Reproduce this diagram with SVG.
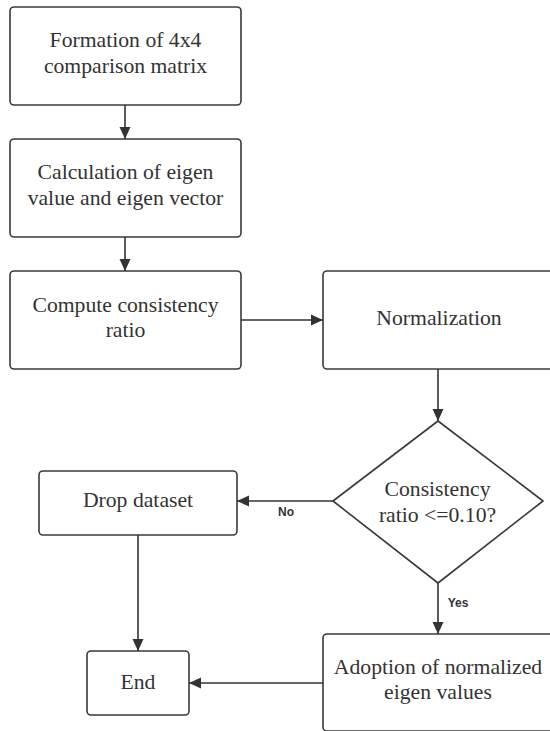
<svg xmlns="http://www.w3.org/2000/svg" width="550" height="731" viewBox="0 0 550 731">
<style>
.box{fill:#ffffff;stroke:#3a3a3a;stroke-width:1.6}
.t{font-family:"Liberation Serif","Times New Roman",serif;font-size:21.7px;fill:#333333;text-anchor:middle}
.lbl{font-family:"Liberation Sans",Arial,sans-serif;font-size:12px;font-weight:bold;fill:#333333;text-anchor:middle}
.c{fill:none;stroke:#333333;stroke-width:1.6;marker-end:url(#ah)}
</style>
<defs>
<marker id="ah" markerUnits="userSpaceOnUse" markerWidth="12" markerHeight="12" viewBox="0 0 12 12" refX="12" refY="6" orient="auto">
<path d="M0,0.5 L12,6 L0,11.5 z" fill="#333333"/>
</marker>
</defs>
<rect width="550" height="731" fill="#ffffff"/>
<g id="connectors">
<path class="c" d="M125,105 L125,139"/>
<path class="c" d="M125,237 L125,271"/>
<path class="c" d="M241,320 L323,320"/>
<path class="c" d="M438,369 L438,421"/>
<path class="c" d="M333,501 L237,501"/>
<path class="c" d="M438,583 L438,634"/>
<path class="c" d="M138,535 L138,651"/>
<path class="c" d="M323,683 L189,683"/>
<text class="lbl" x="286" y="516">No</text>
<text class="lbl" x="458" y="607">Yes</text>
</g>
<g id="formation">
<rect class="box" x="10" y="7" width="231" height="98" rx="4"/>
<text class="t" x="125.5" y="47">Formation of 4x4</text>
<text class="t" x="125.5" y="73">comparison matrix</text>
</g>
<g id="calculation">
<rect class="box" x="10" y="139" width="231" height="98" rx="4"/>
<text class="t" x="125.5" y="179">Calculation of eigen</text>
<text class="t" x="125.5" y="205">value and eigen vector</text>
</g>
<g id="compute">
<rect class="box" x="10" y="271" width="231" height="98" rx="4"/>
<text class="t" x="125.5" y="311.5">Compute consistency</text>
<text class="t" x="125.5" y="337">ratio</text>
</g>
<g id="normalization">
<rect class="box" x="323" y="271" width="240" height="98" rx="4"/>
<text class="t" x="439" y="325">Normalization</text>
</g>
<g id="decision">
<path class="box" d="M438,421 L543,501 L438,583 L333,501 Z" stroke-linejoin="round"/>
<text class="t" x="437.5" y="496">Consistency</text>
<text class="t" x="437.5" y="522">ratio &lt;=0.10?</text>
</g>
<g id="drop">
<rect class="box" x="39" y="471" width="198" height="64" rx="4"/>
<text class="t" x="138" y="507">Drop dataset</text>
</g>
<g id="end">
<rect class="box" x="87" y="651" width="102" height="64" rx="4"/>
<text class="t" x="138" y="689">End</text>
</g>
<g id="adoption">
<rect class="box" x="323" y="634" width="240" height="97" rx="4"/>
<text class="t" x="438" y="674">Adoption of normalized</text>
<text class="t" x="438" y="699">eigen values</text>
</g>
</svg>
